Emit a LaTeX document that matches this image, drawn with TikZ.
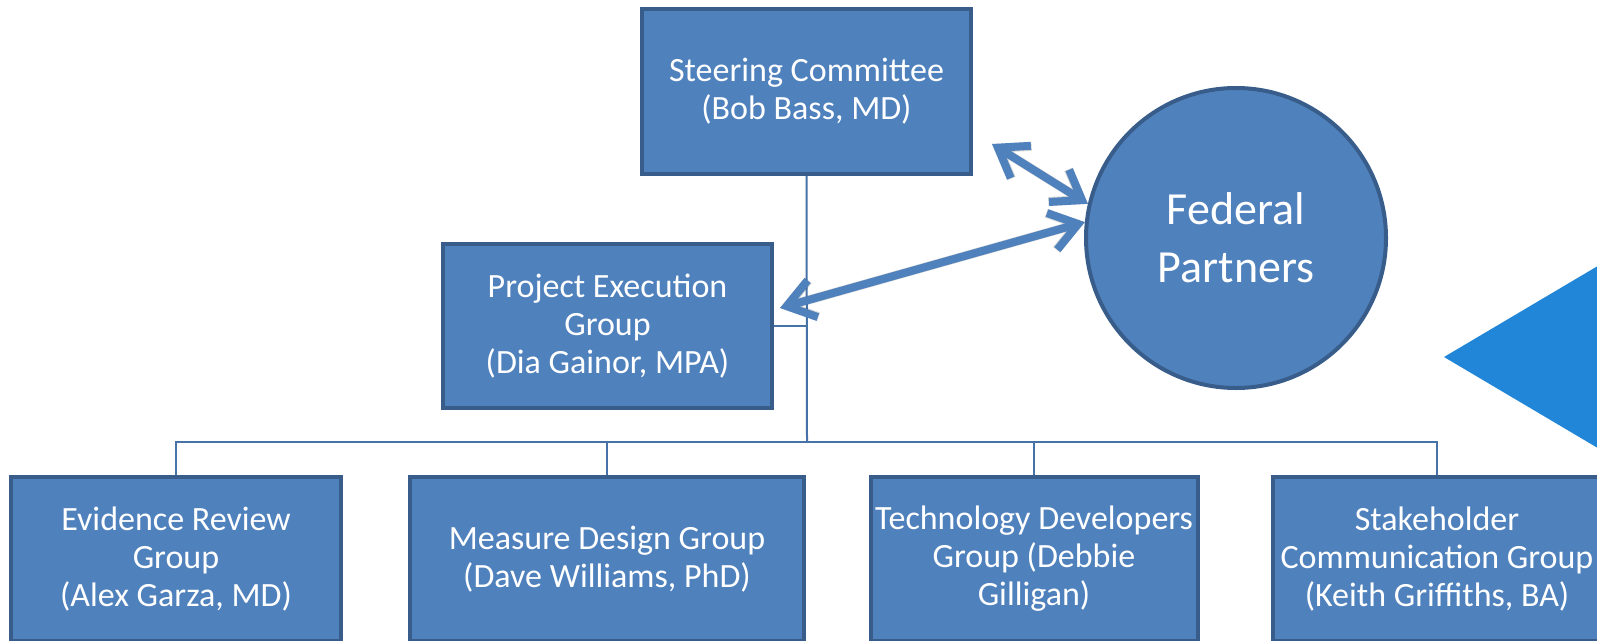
\documentclass[tikz,border=0pt]{standalone}
\usepackage{fontspec}
\setmainfont{Carlito}
\usetikzlibrary{arrows.meta}
\definecolor{boxfill}{RGB}{79,129,189}
\definecolor{boxline}{RGB}{56,93,138}
\definecolor{connc}{RGB}{70,114,168}
\definecolor{trifill}{RGB}{33,134,215}
\begin{document}
\begin{tikzpicture}[x=1pt,y=-1pt,
  box/.style={draw=boxline, fill=boxfill, line width=4pt, text=white, align=center,
    inner sep=0pt, font=\fontsize{34}{38}\selectfont, minimum height=165pt},
  fedc/.style={circle, draw=boxline, fill=boxfill, line width=4pt, text=white, align=center,
    inner sep=0pt, minimum size=300pt, font=\fontsize{46}{58}\selectfont},
  connline/.style={draw=connc, line width=2pt},
  dblarrow/.style={draw=boxfill, line width=8pt,
    {Straight Barb[length=27pt,width=38pt]}-{Straight Barb[length=27pt,width=38pt]}},
  dblshadow/.style={draw=black, opacity=0.15, line width=9pt,
    {Straight Barb[length=27pt,width=38pt]}-{Straight Barb[length=27pt,width=38pt]}}
]
\useasboundingbox (0,0) rectangle (1597,640);
\clip (0,0) rectangle (1597,640);

% triangle on the right
\fill[trifill] (1444,357) -- (1640,241) -- (1640,473) -- cycle;

% nodes
\node[box, minimum width=329pt, minimum height=165pt] (steer) at (806.5,91.5) {Steering Committee\\(Bob Bass, MD)};
\node[box, minimum width=329pt, minimum height=164pt] (pex) at (607.5,326) {Project Execution\\Group\\(Dia Gainor, MPA)};
\node[fedc] (fed) at (1236,238) {Federal\\Partners};

\node[box, minimum width=330pt, minimum height=164pt] (evid) at (176,559) {Evidence Review\\Group\\(Alex Garza, MD)};
\node[box, minimum width=394pt, minimum height=164pt] (meas) at (607,559) {Measure Design Group\\(Dave Williams, PhD)};
\node[box, minimum width=327pt, minimum height=164pt] (tech) at (1034,559) {Technology Developers\\Group (Debbie\\Gilligan)};
\node[box, minimum width=329pt, minimum height=164pt] (stake) at (1437,559) {Stakeholder\\Communication Group\\(Keith Griffiths, BA)};

% connectors
\coordinate (bus) at (807,442);
\draw[connline] (steer.south) -- (bus);
\draw[connline] (pex.east) -- (pex.east -| steer.south);
\draw[connline] (evid.north) -- (evid.north |- bus) -- (stake.north |- bus) -- (stake.north);
\draw[connline] (meas.north) -- (meas.north |- bus);
\draw[connline] (tech.north) -- (tech.north |- bus);

% double arrows
\coordinate (a1) at (992,144);
\coordinate (a2) at (780,308);
\begin{scope}[shift={(2,3)}]
  \draw[dblshadow] (a1) -- (fed.167);
  \draw[dblshadow] (a2) -- (fed.174);
\end{scope}
\draw[dblarrow] (a1) -- (fed.167);
\draw[dblarrow] (a2) -- (fed.174);
\end{tikzpicture}
\end{document}
